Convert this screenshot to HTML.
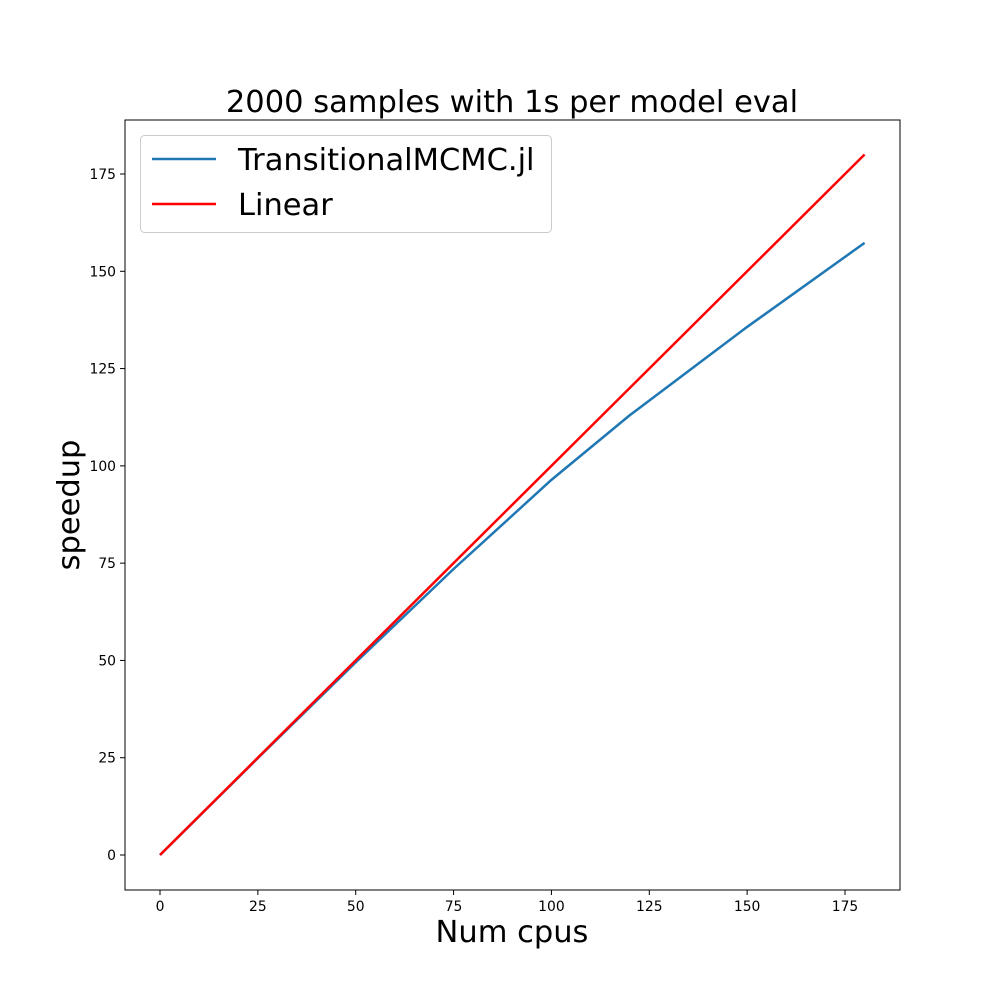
<!DOCTYPE html>
<html><head><meta charset="utf-8"><style>body{margin:0;background:#fff}svg{display:block}text{font-family:"DejaVu Sans","Liberation Sans",sans-serif}</style></head>
<body>
<svg id="chart" width="1000" height="1000">
<rect x="0" y="0" width="1000" height="1000" fill="#fff"/>
<text x="512" y="112" font-size="30.5" text-anchor="middle">2000 samples with 1s per model eval</text>
<g id="axes"></g>
<text x="512" y="942" font-size="30.5" text-anchor="middle">Num cpus</text>
<text transform="translate(79,505) rotate(-90)" font-size="30.5" text-anchor="middle">speedup</text>
<g>
<rect x="140.5" y="135.5" width="411" height="97" rx="4" fill="#fff" stroke="#ccc"/>
<line x1="152" y1="159" x2="216" y2="159" stroke="#1f77b4" stroke-width="2.5"/>
<text x="238" y="170" font-size="30.5">TransitionalMCMC.jl</text>
<line x1="152" y1="204" x2="216" y2="204" stroke="#ff0000" stroke-width="2.5"/>
<text x="238" y="215" font-size="30.5">Linear</text>
</g>
</svg>
<script>
const cpus=[0,25,50,75,100,120,150,180];
const speedup=[0,24.9,49.5,73.5,96.4,113,135.7,157.3];
const linearX=[0,180];
const linearY=[0,180];
const xTicks=[0,25,50,75,100,125,150,175];
const yTicks=[0,25,50,75,100,125,150,175];
const X=v=>160+v*685/175, Y=v=>855-v*681/175;
const NS="http://www.w3.org/2000/svg", g=document.getElementById('axes');
function mk(t,a){const e=document.createElementNS(NS,t);for(const k in a)e.setAttribute(k,a[k]);g.appendChild(e);return e;}
xTicks.forEach(v=>{
 const l=mk('line',{x1:X(v),x2:X(v),y1:890,y2:895,stroke:'#000'});
 
 
 const t=mk('text',{x:X(v),y:911,'font-size':13.9,'text-anchor':'middle'});t.textContent=v;
 
 
});
yTicks.forEach(v=>{
 const l=mk('line',{x1:120,x2:125,y1:Y(v),y2:Y(v),stroke:'#000'});
 
 
 const t=mk('text',{x:116,y:Y(v)+5,'font-size':13.9,'text-anchor':'end'});t.textContent=v;
 
 
});
const s=mk('polyline',{points:cpus.map((c,i)=>X(c)+','+Y(speedup[i])).join(' '),fill:'none',stroke:'#1f77b4','stroke-width':2.5});


const lin=mk('polyline',{points:linearX.map((c,i)=>X(c)+','+Y(linearY[i])).join(' '),fill:'none',stroke:'#ff0000','stroke-width':2.5});


const f=mk('rect',{x:125,y:120,width:775,height:770,fill:'none',stroke:'#000','stroke-width':1});


</script>
</body></html>
